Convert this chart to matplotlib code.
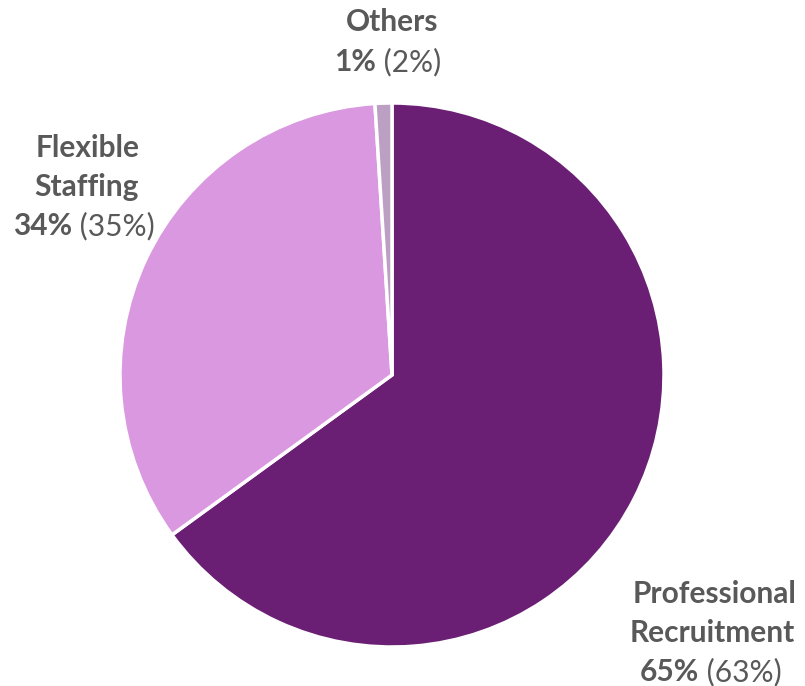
import matplotlib
matplotlib.use("Agg")
import matplotlib.pyplot as plt

# Revenue split by business line (current year, prior year in brackets)
segments = ["Professional Recruitment", "Flexible Staffing", "Others"]
shares = [65, 34, 1]
prior_shares = [63, 35, 2]
colors = ["#6B1F74", "#DA98E0", "#BCA0C4"]

W, H = 805, 686
fig = plt.figure(figsize=(W / 100, H / 100), dpi=100)
ax = fig.add_axes([0, 0, 1, 1])

ax.pie(shares, colors=colors, startangle=90, counterclock=False,
       center=(392, H - 375), radius=272,
       wedgeprops=dict(edgecolor="white", linewidth=2.5))

# work in pixel-like data coordinates (origin bottom-left)
ax.set_xlim(0, W)
ax.set_ylim(0, H)
ax.set_aspect("equal")
ax.axis("off")

FONT = "Lato"
SIZE = 21.5
TXT = "#595959"
fig.canvas.draw()
renderer = fig.canvas.get_renderer()


def mixed_line(cx, cy, parts):
    """Draw a line made of (text, weight) parts, centred at (cx, cy) in pixel coords."""
    objs = []
    for s, w in parts:
        t = ax.text(0, 0, s, fontsize=SIZE, fontweight=w, family=FONT,
                    color=TXT, ha="left", va="center")
        objs.append(t)
    widths = [o.get_window_extent(renderer).width for o in objs]
    x = cx - sum(widths) / 2
    for o, w in zip(objs, widths):
        o.set_position((x, H - cy))
        x += w


label_pos = {
    "Others": [(392, 22, ["Others"])],
    "Flexible Staffing": [(88, 148, ["Flexible"]), (86, 187, ["Staffing"])],
    "Professional Recruitment": [(715, 594, ["Professional"]),
                                 (712, 633, ["Recruitment"])],
}
pct_pos = {"Others": (388, 62), "Flexible Staffing": (84, 226),
           "Professional Recruitment": (711, 672)}

for name, cur, prev in zip(segments, shares, prior_shares):
    for cx, cy, words in label_pos[name]:
        mixed_line(cx, cy, [(words[0], "bold")])
    px, py = pct_pos[name]
    mixed_line(px, py, [(f"{cur}%", "bold"), (f" ({prev}%)", "normal")])

fig.savefig("out.png", dpi=100)
